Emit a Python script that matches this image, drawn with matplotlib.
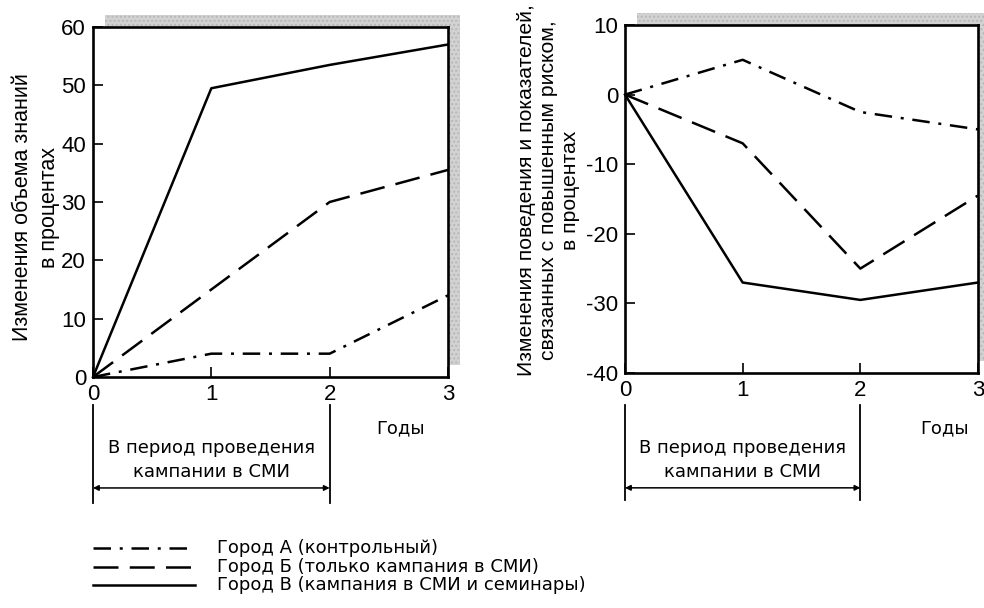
import matplotlib.pyplot as plt
from matplotlib.patches import Rectangle
from matplotlib.lines import Line2D

plt.rcParams['axes.unicode_minus'] = False

# ----------------- data -----------------
years = [0, 1, 2, 3]

# left panel: knowledge change, %
know_a = [0, 4, 4, 14]       # Город А (control)
know_b = [0, 15, 30, 35.5]   # Город Б (media only)
know_c = [0, 49.5, 53.5, 57] # Город В (media + seminars)

# right panel: behaviour / risk factor change, %
risk_a = [0, 5, -2.5, -5]
risk_b = [0, -7, -25, -14.5]
risk_c = [0, -27, -29.5, -27]

labels = ["Город А (контрольный)",
          "Город Б (только кампания в СМИ)",
          "Город В (кампания в СМИ и семинары)"]

left_yticks = [0, 10, 20, 30, 40, 50, 60]
right_yticks = [-40, -30, -20, -10, 0, 10]

# ----------------- styles -----------------
lw = 1.8
styles = [(0, (7, 3.5, 1.2, 3.5)),   # dash-dot
          (0, (10, 4.5)),            # dashed
          '-']                       # solid
TICKFONT = 'Liberation Sans'
TEXTFONT = 'DejaVu Sans'
TEXTSIZE = 13

W, H = 984, 608
fig = plt.figure(figsize=(W / 100, H / 100), dpi=100)

ax1 = fig.add_axes([93 / W, 1 - 377 / H, 355 / W, 350 / H])
ax2 = fig.add_axes([625 / W, 1 - 373 / H, 353 / W, 348 / H])


def shadow(ax):
    # grey drop shadow up and to the right of the frame
    pos = ax.get_position()
    dx, dy = 12 / W, 12 / H
    r = Rectangle((pos.x0 + dx, pos.y0 + dy), pos.width, pos.height,
                  transform=fig.transFigure, facecolor='#d2d2d2',
                  edgecolor='#b8b8b8', hatch='....', linewidth=0, zorder=0)
    fig.patches.append(r)


def style_axes(ax, yticks):
    ax.set_xlim(0, 3)
    ax.set_ylim(yticks[0], yticks[-1])
    ax.set_xticks(years)
    ax.set_yticks(yticks)
    ax.tick_params(direction='in', length=7, width=1.2, pad=5,
                   labelsize=16)
    for lab in ax.get_xticklabels() + ax.get_yticklabels():
        lab.set_fontfamily(TICKFONT)
    for s in ax.spines.values():
        s.set_linewidth(1.9)
    ax.set_facecolor('white')
    ax.set_zorder(2)


def period_marks(ax, y_top, y_bot, y_arrow, y_t1, y_t2, x_years, y_years):
    tr = ax.get_xaxis_transform()
    for x in (0, 2):
        ax.plot([x, x], [y_top, y_bot], color='black', lw=1.3,
                transform=tr, clip_on=False)
    ax.annotate('', xy=(0, y_arrow), xytext=(2, y_arrow),
                xycoords=tr, textcoords=tr,
                arrowprops=dict(arrowstyle='<|-|>', color='black', lw=1.1,
                                mutation_scale=8, shrinkA=0, shrinkB=0))
    ax.text(1, y_t1, "В период проведения", transform=tr, ha='center',
            va='center', fontsize=TEXTSIZE, family=TEXTFONT)
    ax.text(1, y_t2, "кампании в СМИ", transform=tr, ha='center',
            va='center', fontsize=TEXTSIZE, family=TEXTFONT)
    ax.text(x_years, y_years, "Годы", transform=tr, ha='center',
            va='center', fontsize=TEXTSIZE, family=TEXTFONT)


# left panel
for vals, ls in zip([know_a, know_b, know_c], styles):
    ax1.plot(years, vals, color='black', lw=lw, linestyle=ls,
             clip_on=False, zorder=3)
style_axes(ax1, left_yticks)
shadow(ax1)
period_marks(ax1, -0.08, -0.36, -0.317, -0.203, -0.271, 2.6, -0.146)

# right panel
for vals, ls in zip([risk_a, risk_b, risk_c], styles):
    ax2.plot(years, vals, color='black', lw=lw, linestyle=ls,
             clip_on=False, zorder=3)
style_axes(ax2, right_yticks)
shadow(ax2)
period_marks(ax2, -0.092, -0.365, -0.33, -0.216, -0.284, 2.72, -0.158)

# y labels
fig.text(36 / W, 1 - 207 / H, "Изменения объема знаний\nв процентах",
         rotation=90, ha='center', va='center', multialignment='center',
         fontsize=15.5, family=TICKFONT, linespacing=1.35)
fig.text(549 / W, 1 - 190 / H,
         "Изменения поведения и показателей,\nсвязанных с повышенным риском,\nв процентах",
         rotation=90, ha='center', va='center', multialignment='center',
         fontsize=15.2, family=TICKFONT, linespacing=1.2)

# legend (drawn by hand to get the tight row spacing)
leg_y = [548, 567, 585]
for ls, lab, yy in zip(styles, labels, leg_y):
    fig.add_artist(Line2D([93 / W, 195 / W], [1 - yy / H, 1 - yy / H],
                          transform=fig.transFigure, color='black',
                          lw=lw, linestyle=ls))
    fig.text(217 / W, 1 - yy / H, lab, ha='left', va='center',
             fontsize=TEXTSIZE, family=TEXTFONT)

fig.savefig('out.png', dpi=100)
